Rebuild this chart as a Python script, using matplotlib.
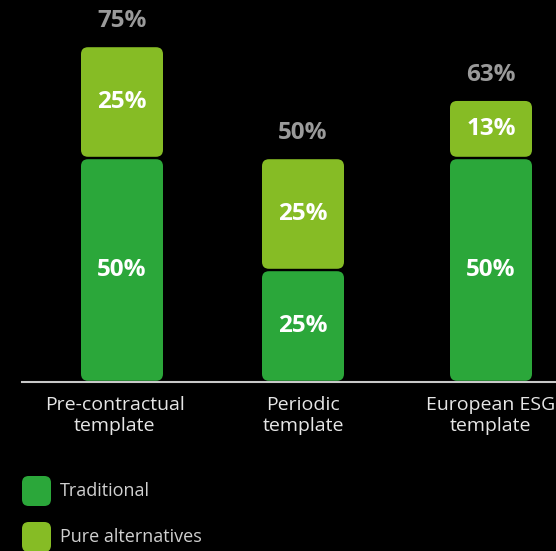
import matplotlib.pyplot as plt
from matplotlib.patches import FancyBboxPatch

plt.rcParams['font.family'] = ['Open Sans', 'DejaVu Sans']

categories = ['Pre-contractual\ntemplate', 'Periodic\ntemplate', 'European ESG\ntemplate']
traditional = [50, 25, 50]
pure_alt = [25, 25, 13]
totals = ['75%', '50%', '63%']

dark_green = '#2BA73A'
lime = '#86BC25'

W, H = 556, 551
fig = plt.figure(figsize=(W / 100, H / 100), dpi=100, facecolor='black')
# axes: x in pixels 22..556, baseline at y=382 px, 4.48 px per percent
ppu = 4.48
ymax = 80
ax = fig.add_axes([22 / W, (H - 382) / H, 534 / W, ymax * ppu / H])
ax.set_facecolor('black')
ax.set_xlim(22, 556)
ax.set_ylim(0, ymax)
ax.axis('off')

xpos = [122, 303, 491]
label_x = [115, 303, 491]
bw = 82
gap = 1.2 / ppu
aspect = 1 / ppu


def rbar(x, y0, h, color):
    p = FancyBboxPatch((x - bw / 2, y0 + gap), bw, h - 2 * gap,
                       boxstyle='round,pad=0,rounding_size=7',
                       mutation_aspect=aspect, fc=color, ec='none')
    ax.add_patch(p)


for x, t, p, tot in zip(xpos, traditional, pure_alt, totals):
    rbar(x, 0, t, dark_green)
    rbar(x, t, p, lime)
    ax.text(x, t / 2, f'{t}%', ha='center', va='center', color='white',
            fontsize=17.5, fontweight='bold')
    ax.text(x, t + p / 2, f'{p}%', ha='center', va='center', color='white',
            fontsize=17.5, fontweight='bold')
    ax.text(x, t + p + 25 / ppu, tot, ha='center', va='center', color='#9a9a9a',
            fontsize=17.5, fontweight='bold')

ax.plot([22, 556], [0, 0], color='#c8c8c8', lw=1.5, clip_on=False)

for x, c in zip(label_x, categories):
    fig.text(x / W, 1 - 396 / H, c, ha='center', va='top', color='#e6e6e6',
             fontsize=14, linespacing=1.2)

# legend
for i, (lab, col) in enumerate([('Traditional', dark_green), ('Pure alternatives', lime)]):
    yc = 491 + i * 46
    sq = FancyBboxPatch((22 / W, 1 - (yc + 15) / H), 29 / W, 30 / H,
                        boxstyle='round,pad=0,rounding_size=0.012',
                        mutation_aspect=W / H, transform=fig.transFigure,
                        fc=col, ec='none')
    fig.patches.append(sq)
    fig.text(60 / W, 1 - yc / H, lab, ha='left', va='center', color='#d0d0d0',
             fontsize=13)

fig.savefig('out.png', facecolor='black')
